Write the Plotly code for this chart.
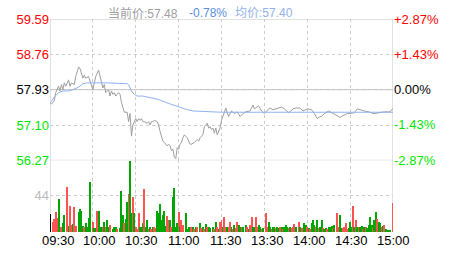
import plotly.graph_objects as go

# ---------------- data ----------------
prev_close = 57.93
price_ticks = [56.27, 57.10, 57.93, 58.76, 59.59]
pct_ticks = [-2.87, -1.43, 0.00, 1.43, 2.87]
pct_labels = ["-2.87%", "-1.43%", "0.00%", "+1.43%", "+2.87%"]
time_labels = ["09:30", "10:00", "10:30", "11:00", "11:30", "13:30", "14:00", "14:30", "15:00"]
vol_tick = 44

price_min = [0, 1, 3, 4, 6, 7, 8, 9, 10, 11, 13, 14, 15, 17, 18, 20, 21, 22, 23, 24, 25, 27, 28, 29,
             30, 31, 32, 34, 35, 36, 37, 38, 39, 41, 42, 43, 44, 45, 46, 48, 49, 50, 51, 52, 54, 55,
             56, 57, 58, 59, 60, 61, 62, 63, 64, 65, 66, 68, 69, 70, 71, 72, 73, 75, 76, 77, 78, 79,
             80, 82, 83, 84, 85, 86, 87, 88, 89, 90, 91, 92, 93, 94, 96, 97, 98, 99, 101, 103, 104,
             105, 107, 108, 110, 111, 112, 113, 114, 115, 116, 117, 119, 120, 121, 122, 123, 125,
             127, 129, 131, 133, 135, 137, 140, 142, 143, 146, 148, 150, 153, 154, 156, 158, 161,
             162, 164, 167, 168, 170, 172, 175, 177, 180, 183, 185, 187, 189, 190, 192, 195, 196,
             198, 200, 203, 205, 208, 210, 212, 213, 215, 217, 219, 220, 223, 224, 226, 227, 230,
             232, 234, 237, 238, 239, 240]
price_val = [57.63, 57.59, 57.67, 57.86, 58.01, 57.90, 58.05, 57.93, 58.09, 58.01, 58.16, 58.01,
             58.09, 58.05, 58.24, 58.46, 58.43, 58.31, 58.20, 58.27, 58.20, 58.24, 58.12, 58.05,
             57.93, 58.09, 58.24, 58.39, 58.27, 58.09, 57.97, 58.05, 57.86, 57.93, 57.78, 57.90,
             57.82, 57.86, 57.78, 57.86, 57.82, 57.63, 57.52, 57.40, 57.40, 57.18, 57.37, 56.84,
             57.10, 57.18, 57.25, 57.18, 57.25, 57.21, 57.25, 57.18, 57.18, 57.14, 57.18, 57.10,
             57.18, 57.18, 57.21, 57.18, 57.10, 56.95, 56.84, 56.72, 56.69, 56.61, 56.65, 56.61,
             56.50, 56.53, 56.35, 56.31, 56.57, 56.53, 56.65, 56.69, 56.80, 56.87, 56.80, 56.72,
             56.65, 56.65, 56.69, 56.76, 56.72, 56.80, 56.87, 57.06, 57.14, 57.03, 57.06, 56.99,
             57.03, 56.91, 57.03, 56.87, 57.03, 57.21, 57.33, 57.40, 57.50, 57.30, 57.43, 57.37,
             57.41, 57.30, 57.37, 57.41, 57.43, 57.57, 57.48, 57.55, 57.43, 57.37, 57.48, 57.50,
             57.46, 57.48, 57.50, 57.52, 57.48, 57.39, 57.41, 57.48, 57.50, 57.50, 57.43, 57.48,
             57.46, 57.37, 57.25, 57.30, 57.30, 57.37, 57.43, 57.41, 57.37, 57.32, 57.28, 57.32,
             57.37, 57.37, 57.39, 57.39, 57.48, 57.46, 57.43, 57.43, 57.41, 57.39, 57.37, 57.37,
             57.39, 57.39, 57.41, 57.41, 57.41, 57.46, 57.48]

avg_min = [0, 1, 3, 6, 9, 13, 16, 20, 23, 26, 40, 54, 55, 57, 59, 61, 65, 71, 76, 81, 87, 91, 95,
           100, 110, 120, 240]
avg_val = [57.63, 57.65, 57.76, 57.86, 57.90, 57.90, 57.93, 57.99, 58.07, 58.09, 58.09, 58.07,
           58.05, 57.90, 57.82, 57.78, 57.78, 57.74, 57.70, 57.63, 57.56, 57.50, 57.47, 57.43,
           57.42, 57.40, 57.40]

vol_min = [0, 2, 3, 4, 5, 6, 7, 8, 9, 10, 12, 13, 14, 15, 16, 17, 18, 20, 21, 22, 23, 24, 25, 26,
           27, 28, 30, 31, 32, 33, 34, 35, 36, 37, 38, 39, 40, 41, 42, 44, 45, 46, 47, 49, 50, 51,
           52, 53, 54, 55, 56, 57, 58, 59, 60, 61, 62, 63, 64, 65, 66, 67, 68, 69, 70, 71, 72, 73,
           74, 75, 76, 77, 78, 79, 80, 81, 82, 83, 84, 85, 86, 87, 88, 89, 90, 91, 92, 93, 95, 96,
           97, 98, 99, 100, 101, 102, 103, 105, 106, 107, 108, 109, 110, 111, 112, 114, 115, 116,
           117, 118, 119, 120, 121, 122, 123, 124, 125, 126, 127, 128, 129, 130, 131, 132, 133,
           134, 135, 137, 138, 139, 140, 141, 142, 143, 144, 145, 146, 147, 148, 149, 151, 152,
           153, 154, 155, 156, 157, 158, 159, 160, 161, 162, 163, 164, 165, 166, 167, 168, 169,
           170, 171, 172, 174, 175, 176, 178, 179, 180, 181, 182, 183, 184, 185, 186, 187, 188,
           189, 190, 191, 192, 193, 194, 195, 196, 197, 198, 199, 201, 202, 203, 204, 205, 206,
           207, 208, 209, 210, 211, 212, 213, 214, 215, 216, 217, 218, 219, 220, 221, 222, 223,
           224, 225, 226, 227, 228, 229, 230, 231, 232, 233, 234, 235, 236, 237, 238, 240]
vol_val = [21, 11, 15, 23, 16, 39, 6, 5, 10, 20, 54, 7, 31, 8, 9, 29, 7, 23, 27, 25, 7, 5, 10, 6,
           16, 59, 12, 4, 4, 25, 25, 5, 6, 6, 12, 5, 14, 6, 8, 3, 6, 5, 3, 4, 49, 20,
           10, 15, 35, 45, 85, 22, 42, 22, 5, 3, 22, 5, 6, 10, 51, 6, 14, 3, 6, 3, 6, 5,
           4, 25, 22, 33, 14, 20, 25, 7, 19, 14, 14, 5, 41, 52, 6, 10, 23, 6, 14, 8, 22, 3,
           5, 4, 6, 5, 3, 5, 5, 10, 4, 5, 3, 9, 6, 5, 4, 5, 3, 11,
           5, 3, 12, 14, 6, 18, 6, 5, 6, 12, 5, 3, 8, 4, 12, 8, 6,
           5, 6, 8, 5, 3, 8, 17, 5, 6, 17, 5, 8, 5, 3, 4, 22, 6,
           12, 6, 3, 5, 5, 4, 6, 4, 5, 6, 3, 5, 8, 5, 4, 6, 4,
           5, 9, 6, 12, 5, 4, 10, 8, 5, 4, 3, 10, 14, 8, 5, 14, 4,
           5, 14, 4, 3, 4, 3, 5, 6, 7, 4, 8, 22, 6, 20, 4, 4, 5,
           10, 3, 4, 12, 6, 31, 6, 14, 6, 5, 6, 7, 3, 6, 6, 4, 8,
           18, 8, 4, 14, 23, 15, 12, 10, 6, 7, 8, 3, 2, 2, 2, 34]
vol_dir = [0, 1, 1, 1, 1, -1, -1, 1, -1, -1, 1, -1, 1, 1, -1, 1, 1, -1, -1, -1, -1, 1, -1, -1,
           -1, -1, 1, -1, -1, 1, -1, -1, -1, 1, -1, 1, -1, -1, 1, -1, -1, -1, 1, -1, -1, -1,
           1, -1, -1, 1, -1, -1, 1, -1, 1, 1, 1, -1, -1, -1, 1, -1, -1, 1, -1, 1, -1, 1,
           1, -1, -1, -1, -1, -1, -1, -1, 1, 1, -1, 1, -1, -1, -1, -1, 1, -1, 1, 1, -1, -1,
           -1, -1, 1, -1, 1, -1, 1, -1, 1, -1, 1, -1, 1, -1, -1, -1, 1, -1,
           1, -1, 1, 1, -1, 1, 1, -1, 1, 1, -1, 1, -1, 1, 1, -1, -1,
           1, -1, -1, 1, -1, 1, 1, -1, -1, 1, 1, -1, -1, 1, -1, 1, 1,
           -1, -1, 1, -1, -1, 1, -1, -1, 1, -1, 1, -1, -1, -1, 1, -1, 1,
           1, 1, -1, 1, -1, 1, -1, -1, 1, -1, 1, -1, -1, -1, 1, -1, 1,
           -1, -1, 1, -1, -1, 1, -1, -1, -1, 1, -1, 1, 1, -1, -1, 1, 1,
           1, 1, -1, -1, -1, 1, -1, 1, -1, 1, -1, -1, 1, -1, 1, -1, -1,
           -1, -1, 1, -1, -1, 1, -1, -1, 1, -1, 1, -1, -1, -1, -1, 1]

# ---------------- styling ----------------
RED = "#ff0000"
GREEN = "#00e600"
BAR_RED = "#ff5252"
BAR_GREEN = "#00a600"
GRID = "#cccccc"
FONT = "Liberation Sans, Arial, Noto Sans CJK SC"

W, H = 463, 255
ML, MR, MT, MB = 50, 70, 12, 23
plot_w = W - ML - MR
price_frac = 146 / (H - MT - MB)
split = 1 - price_frac

bar_colors = [BAR_RED if d > 0 else (BAR_GREEN if d < 0 else "#000000") for d in vol_dir]


def col_for(v):
    if v > 0:
        return RED
    if v < 0:
        return GREEN
    return "#000000"


price_text = [f'<span style="color:{col_for(p - prev_close)}">{p:.2f}</span>' for p in price_ticks]
pct_text = [f'<span style="color:{col_for(v)}">{t}</span>' for v, t in zip(pct_ticks, pct_labels)]

fig = go.Figure()
fig.add_trace(go.Scatter(x=price_min, y=price_val, mode="lines",
                         line=dict(color="#9e9e9e", width=1), xaxis="x", yaxis="y",
                         hoverinfo="skip", showlegend=False))
fig.add_trace(go.Scatter(x=avg_min, y=avg_val, mode="lines",
                         line=dict(color="#8fb1ef", width=1), xaxis="x", yaxis="y",
                         hoverinfo="skip", showlegend=False))
fig.add_trace(go.Bar(x=vol_min, y=vol_val, marker=dict(color=bar_colors, line=dict(width=0)),
                     width=0.7, xaxis="x2", yaxis="y2", hoverinfo="skip", showlegend=False))
# invisible trace to activate right percent axis
fig.add_trace(go.Scatter(x=[0], y=[0], mode="lines", line=dict(width=0), xaxis="x", yaxis="y3",
                         hoverinfo="skip", showlegend=False))

grid_x = [30, 60, 90, 120, 150, 180, 210]
xcommon = dict(range=[0, 240], showticklabels=False, ticks="", tickvals=grid_x,
               showgrid=True, gridcolor=GRID, griddash="3px,3px", gridwidth=1,
               zeroline=False, showline=False, fixedrange=True)

fig.update_layout(
    width=W, height=H,
    margin=dict(l=ML, r=MR, t=MT, b=MB),
    paper_bgcolor="white", plot_bgcolor="white",
    font=dict(family=FONT, size=13, color="#000000"),
    bargap=0,
    xaxis=dict(domain=[0, 1], anchor="y", **xcommon),
    xaxis2=dict(domain=[0, 1], anchor="y2", matches="x", **xcommon),
    yaxis=dict(domain=[split, 1], range=[price_ticks[0], price_ticks[-1]],
               tickvals=price_ticks, ticktext=price_text, ticks="",
               showgrid=True, gridcolor=GRID, griddash="3px,3px", zeroline=False,
               tickfont=dict(size=13, family=FONT)),
    yaxis3=dict(overlaying="y", side="right", anchor="x",
                range=[pct_ticks[0], pct_ticks[-1]], tickvals=pct_ticks, ticktext=pct_text,
                ticks="", showgrid=False, zeroline=False,
                tickfont=dict(size=13, family=FONT)),
    yaxis2=dict(domain=[0, split], range=[0, 85.7], tickvals=[vol_tick],
                ticktext=[str(vol_tick)], ticks="", showgrid=True, gridcolor=GRID,
                griddash="3px,3px", zeroline=False,
                tickfont=dict(size=13, family=FONT, color="#bbbbbb")),
)

line_col = "#c4c4c4"
shapes = [
    dict(type="line", xref="x", yref="y", x0=0, x1=240, y0=price_ticks[-1], y1=price_ticks[-1]),
    dict(type="line", xref="x", yref="y", x0=0, x1=240, y0=prev_close, y1=prev_close),
    dict(type="line", xref="x", yref="y", x0=0, x1=240, y0=price_ticks[0], y1=price_ticks[0]),
    dict(type="line", xref="x", yref="paper", x0=0, x1=0, y0=0, y1=1),
    dict(type="line", xref="x", yref="paper", x0=240, x1=240, y0=0, y1=1),
]
for s in shapes:
    s["line"] = dict(color=line_col, width=1)
    s["layer"] = "between"
fig.update_layout(shapes=shapes)

# time labels under the volume panel
ann = []
n = len(time_labels)
for i, lab in enumerate(time_labels):
    px = 8 + (plot_w - 8 + 0.5) / (n - 1) * i
    ann.append(dict(text=lab, xref="paper", yref="paper", x=px / plot_w, y=0,
                    xanchor="center", yanchor="middle", yshift=-8, showarrow=False,
                    font=dict(size=13, color="#000000", family=FONT)))

# header texts
last_price = price_val[-1]
chg = (last_price - prev_close) / prev_close * 100
avg_last = avg_val[-1]
ann.append(dict(text=f"当前价:{last_price:.2f}", xref="paper", yref="paper", x=56 / plot_w, y=1,
                xanchor="left", yanchor="middle", yshift=6, showarrow=False,
                font=dict(size=12, color="#a0a0a0", family=FONT)))
ann.append(dict(text=f"{chg:.2f}%", xref="paper", yref="paper", x=136.5 / plot_w, y=1,
                xanchor="left", yanchor="middle", yshift=6, showarrow=False,
                font=dict(size=12, color="#5b8ee0", family=FONT)))
ann.append(dict(text=f"均价:{avg_last:.2f}", xref="paper", yref="paper", x=183 / plot_w, y=1,
                xanchor="left", yanchor="middle", yshift=6, showarrow=False,
                font=dict(size=12, color="#92b2ec", family=FONT)))
fig.update_layout(annotations=ann)

fig.write_html("out.html")
